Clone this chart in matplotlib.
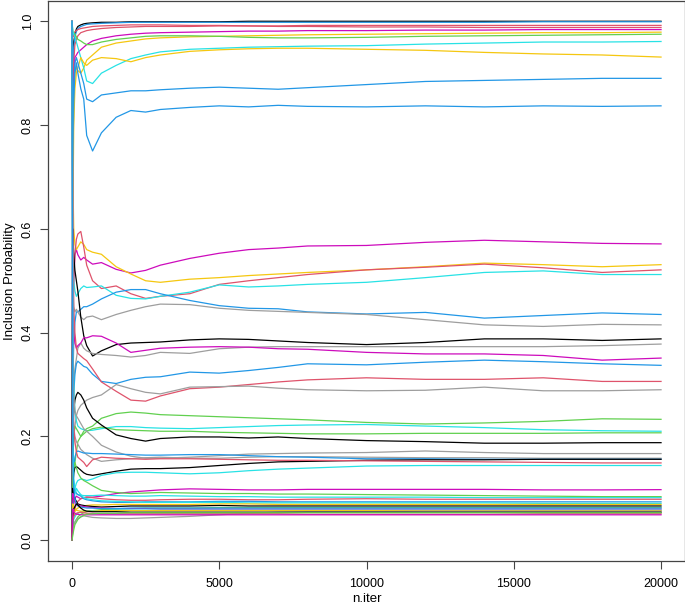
import matplotlib

matplotlib.use("Agg")
import matplotlib.pyplot as plt

# iteration grid at which the running inclusion probabilities were read
iters = [1, 30, 60, 100, 150, 200, 300, 400, 500, 700, 1000, 1500, 2000, 2500,
         3000, 4000, 5000, 6000, 7000, 8000, 10000, 12000, 14000, 16000, 18000, 20000]

# R default palette (col = 1:8)
palette = {"black": "#000000", "red": "#DF536B", "green": "#61D04F", "blue": "#2297E6",
           "cyan": "#28E2E5", "magenta": "#CD0BBC", "gold": "#F5C710", "gray": "#9E9E9E"}

# variables that end near 1
top_colors = ["black", "blue", "red", "red", "magenta", "gold", "green", "cyan", "gold", "blue", "blue"]
top_values = [
    [0.0, 0.93, 0.96, 0.975, 0.985, 0.99, 0.993, 0.995, 0.996, 0.997, 0.998, 0.998, 0.999, 0.999, 0.999, 0.999, 0.999, 1.0, 1.0, 1.0, 1.0, 1.0, 1.0, 1.0, 1.0, 1.0],
    [0.0, 0.9, 0.95, 0.97, 0.98, 0.986, 0.99, 0.992, 0.994, 0.995, 0.996, 0.997, 0.998, 0.998, 0.998, 0.998, 0.998, 0.998, 0.998, 0.998, 0.998, 0.998, 0.998, 0.999, 0.999, 0.999],
    [0.0, 0.8, 0.92, 0.955, 0.965, 0.972, 0.978, 0.98, 0.982, 0.984, 0.986, 0.988, 0.989, 0.99, 0.99, 0.99, 0.991, 0.991, 0.991, 0.992, 0.992, 0.992, 0.992, 0.992, 0.992, 0.992],
    [1.0, 0.97, 0.975, 0.98, 0.982, 0.984, 0.986, 0.987, 0.988, 0.99, 0.991, 0.992, 0.993, 0.993, 0.993, 0.992, 0.992, 0.991, 0.99, 0.99, 0.989, 0.989, 0.988, 0.988, 0.988, 0.988],
    [0.0, 0.75, 0.88, 0.93, 0.935, 0.94, 0.945, 0.95, 0.955, 0.962, 0.967, 0.972, 0.975, 0.977, 0.978, 0.979, 0.98, 0.981, 0.981, 0.982, 0.982, 0.983, 0.983, 0.984, 0.984, 0.984],
    [0.0, 0.7, 0.85, 0.9, 0.91, 0.905, 0.9, 0.91, 0.925, 0.935, 0.95, 0.958, 0.962, 0.966, 0.968, 0.97, 0.971, 0.972, 0.973, 0.974, 0.975, 0.976, 0.977, 0.978, 0.978, 0.979],
    [1.0, 0.98, 0.978, 0.975, 0.97, 0.965, 0.962, 0.958, 0.955, 0.955, 0.96, 0.965, 0.968, 0.971, 0.972, 0.972, 0.971, 0.969, 0.968, 0.968, 0.969, 0.971, 0.972, 0.973, 0.974, 0.975],
    [1.0, 0.98, 0.975, 0.97, 0.96, 0.95, 0.93, 0.91, 0.885, 0.88, 0.9, 0.915, 0.928, 0.935, 0.941, 0.946, 0.948, 0.95, 0.951, 0.952, 0.953, 0.956, 0.958, 0.96, 0.96, 0.961],
    [0.0, 0.6, 0.8, 0.87, 0.9, 0.91, 0.93, 0.92, 0.915, 0.925, 0.93, 0.928, 0.922, 0.93, 0.935, 0.942, 0.945, 0.947, 0.948, 0.948, 0.946, 0.944, 0.94, 0.937, 0.935, 0.931],
    [0.0, 0.75, 0.88, 0.92, 0.93, 0.92, 0.9, 0.88, 0.85, 0.845, 0.858, 0.862, 0.866, 0.866, 0.868, 0.871, 0.873, 0.871, 0.869, 0.872, 0.878, 0.884, 0.886, 0.888, 0.89, 0.89],
    [0.0, 0.7, 0.85, 0.9, 0.92, 0.9, 0.87, 0.85, 0.78, 0.75, 0.785, 0.815, 0.828, 0.825, 0.83, 0.834, 0.837, 0.835, 0.838, 0.836, 0.835, 0.837, 0.835, 0.837, 0.836, 0.837],
]

# variables that settle between 0.25 and 0.6
mid_colors = ["magenta", "gold", "red", "cyan", "blue", "gray", "black", "gray", "magenta", "blue", "red", "gray"]
mid_values = [
    [0.0, 0.4, 0.5, 0.55, 0.56, 0.55, 0.54, 0.545, 0.54, 0.532, 0.535, 0.522, 0.515, 0.52, 0.53, 0.543, 0.553, 0.56, 0.563, 0.567, 0.568, 0.574, 0.578, 0.575, 0.572, 0.571],
    [1.0, 0.7, 0.6, 0.57, 0.56, 0.565, 0.575, 0.57, 0.56, 0.555, 0.551, 0.527, 0.513, 0.5, 0.497, 0.503, 0.506, 0.51, 0.513, 0.516, 0.521, 0.527, 0.534, 0.531, 0.527, 0.531],
    [0.0, 0.45, 0.5, 0.55, 0.58, 0.59, 0.595, 0.565, 0.53, 0.5, 0.485, 0.49, 0.475, 0.466, 0.47, 0.475, 0.493, 0.5, 0.506, 0.512, 0.521, 0.526, 0.532, 0.525, 0.516, 0.521],
    [1.0, 0.55, 0.5, 0.48, 0.47, 0.475, 0.485, 0.49, 0.487, 0.488, 0.49, 0.472, 0.466, 0.465, 0.47, 0.478, 0.492, 0.488, 0.49, 0.493, 0.497, 0.506, 0.516, 0.519, 0.512, 0.512],
    [0.0, 0.3, 0.38, 0.42, 0.44, 0.44, 0.445, 0.45, 0.45, 0.455, 0.465, 0.478, 0.483, 0.483, 0.475, 0.462, 0.452, 0.447, 0.446, 0.44, 0.436, 0.439, 0.428, 0.433, 0.438, 0.435],
    [1.0, 0.5, 0.45, 0.44, 0.445, 0.44, 0.43, 0.425, 0.43, 0.432, 0.425, 0.435, 0.443, 0.45, 0.455, 0.454, 0.447, 0.443, 0.441, 0.439, 0.435, 0.425, 0.415, 0.412, 0.416, 0.415],
    [0.0, 0.6, 0.55, 0.52, 0.5, 0.48, 0.43, 0.394, 0.375, 0.355, 0.365, 0.377, 0.38, 0.381, 0.382, 0.386, 0.388, 0.387, 0.384, 0.381, 0.377, 0.381, 0.388, 0.388, 0.385, 0.388],
    [0.0, 0.25, 0.3, 0.33, 0.35, 0.37, 0.38, 0.37, 0.365, 0.36, 0.358, 0.356, 0.353, 0.356, 0.362, 0.36, 0.369, 0.372, 0.373, 0.373, 0.373, 0.373, 0.373, 0.373, 0.375, 0.378],
    [1.0, 0.45, 0.4, 0.38, 0.37, 0.375, 0.38, 0.39, 0.39, 0.394, 0.393, 0.38, 0.362, 0.366, 0.37, 0.372, 0.373, 0.372, 0.369, 0.368, 0.362, 0.359, 0.359, 0.356, 0.347, 0.351],
    [0.0, 0.2, 0.28, 0.32, 0.34, 0.345, 0.34, 0.335, 0.333, 0.32, 0.306, 0.302, 0.31, 0.314, 0.315, 0.324, 0.322, 0.327, 0.333, 0.34, 0.338, 0.343, 0.347, 0.344, 0.34, 0.337],
    [1.0, 0.6, 0.45, 0.4, 0.37, 0.36, 0.355, 0.35, 0.346, 0.33, 0.305, 0.287, 0.27, 0.268, 0.278, 0.292, 0.295, 0.3, 0.305, 0.309, 0.313, 0.31, 0.31, 0.313, 0.306, 0.306],
    [0.0, 0.15, 0.2, 0.22, 0.24, 0.25, 0.26, 0.265, 0.27, 0.275, 0.28, 0.3, 0.292, 0.285, 0.282, 0.295, 0.296, 0.297, 0.293, 0.29, 0.288, 0.289, 0.295, 0.288, 0.288, 0.29],
]

# variables that settle between 0.14 and 0.24
band_colors = ["green", "cyan", "green", "black", "gray", "gray", "blue", "black", "red", "cyan"]
band_values = [
    [0.0, 0.1, 0.13, 0.15, 0.17, 0.19, 0.2, 0.21, 0.215, 0.22, 0.235, 0.244, 0.247, 0.245, 0.242, 0.24, 0.238, 0.236, 0.234, 0.232, 0.227, 0.224, 0.226, 0.229, 0.234, 0.233],
    [1.0, 0.4, 0.3, 0.25, 0.23, 0.22, 0.215, 0.213, 0.211, 0.212, 0.215, 0.219, 0.219, 0.217, 0.216, 0.215, 0.217, 0.219, 0.221, 0.222, 0.223, 0.22, 0.217, 0.213, 0.211, 0.21],
    [0.0, 0.15, 0.2, 0.22, 0.215, 0.21, 0.2, 0.205, 0.21, 0.215, 0.218, 0.213, 0.212, 0.211, 0.21, 0.21, 0.208, 0.207, 0.206, 0.205, 0.205, 0.206, 0.206, 0.206, 0.207, 0.207],
    [0.0, 0.2, 0.25, 0.27, 0.28, 0.285, 0.28, 0.27, 0.255, 0.235, 0.222, 0.203, 0.196, 0.191, 0.196, 0.199, 0.199, 0.197, 0.199, 0.196, 0.192, 0.19, 0.187, 0.187, 0.188, 0.188],
    [1.0, 0.35, 0.28, 0.25, 0.24, 0.235, 0.225, 0.215, 0.21, 0.2, 0.183, 0.17, 0.162, 0.158, 0.158, 0.16, 0.163, 0.166, 0.167, 0.168, 0.169, 0.172, 0.169, 0.167, 0.167, 0.167],
    [0.0, 0.25, 0.22, 0.2, 0.19, 0.185, 0.175, 0.17, 0.165, 0.158, 0.152, 0.155, 0.157, 0.159, 0.16, 0.158, 0.158, 0.16, 0.161, 0.161, 0.16, 0.159, 0.159, 0.158, 0.158, 0.158],
    [0.0, 0.1, 0.14, 0.16, 0.17, 0.172, 0.17, 0.168, 0.168, 0.167, 0.167, 0.166, 0.165, 0.164, 0.164, 0.165, 0.165, 0.163, 0.161, 0.16, 0.157, 0.157, 0.156, 0.156, 0.156, 0.156],
    [0.0, 0.1, 0.13, 0.14, 0.142, 0.14, 0.135, 0.13, 0.127, 0.125, 0.128, 0.133, 0.137, 0.138, 0.138, 0.14, 0.144, 0.148, 0.151, 0.152, 0.154, 0.155, 0.155, 0.156, 0.156, 0.156],
    [1.0, 0.3, 0.22, 0.19, 0.17, 0.16, 0.155, 0.15, 0.142, 0.155, 0.16, 0.158, 0.157, 0.156, 0.157, 0.157, 0.156, 0.155, 0.154, 0.154, 0.153, 0.152, 0.151, 0.15, 0.149, 0.149],
    [0.0, 0.05, 0.08, 0.1, 0.11, 0.115, 0.118, 0.117, 0.115, 0.118, 0.125, 0.13, 0.131, 0.131, 0.13, 0.128, 0.13, 0.134, 0.137, 0.139, 0.143, 0.144, 0.144, 0.144, 0.144, 0.144],
]

# variables that stay rarely included (below 0.1)
low_colors = ["magenta", "green", "cyan", "red", "blue", "cyan", "gold", "black", "green", "magenta",
              "blue", "cyan", "gold", "gray", "black", "red", "magenta", "green"]
low_values = [
    [0.0, 0.05, 0.07, 0.08, 0.085, 0.083, 0.08, 0.082, 0.083, 0.083, 0.085, 0.09, 0.093, 0.095, 0.097, 0.099, 0.098, 0.097, 0.097, 0.098, 0.098, 0.098, 0.098, 0.097, 0.097, 0.0975],
    [0.0, 0.12, 0.14, 0.15, 0.14, 0.13, 0.12, 0.115, 0.112, 0.105, 0.096, 0.092, 0.09, 0.091, 0.092, 0.091, 0.09, 0.09, 0.089, 0.089, 0.088, 0.087, 0.086, 0.085, 0.084, 0.084],
    [1.0, 0.2, 0.12, 0.1, 0.09, 0.088, 0.087, 0.086, 0.086, 0.086, 0.087, 0.086, 0.085, 0.085, 0.086, 0.085, 0.084, 0.084, 0.083, 0.083, 0.083, 0.083, 0.082, 0.082, 0.082, 0.082],
    [0.0, 0.03, 0.05, 0.06, 0.07, 0.075, 0.08, 0.082, 0.083, 0.082, 0.08, 0.078, 0.077, 0.077, 0.078, 0.079, 0.079, 0.078, 0.078, 0.079, 0.08, 0.079, 0.079, 0.079, 0.079, 0.079],
    [0.0, 0.08, 0.1, 0.095, 0.09, 0.088, 0.085, 0.08, 0.078, 0.076, 0.074, 0.073, 0.073, 0.074, 0.074, 0.074, 0.075, 0.075, 0.074, 0.074, 0.074, 0.074, 0.074, 0.074, 0.074, 0.074],
    [0.0, 0.06, 0.08, 0.09, 0.1, 0.095, 0.088, 0.082, 0.08, 0.078, 0.076, 0.075, 0.074, 0.073, 0.073, 0.073, 0.073, 0.072, 0.072, 0.072, 0.072, 0.072, 0.072, 0.071, 0.071, 0.071],
    [0.0, 0.04, 0.05, 0.055, 0.06, 0.062, 0.065, 0.066, 0.067, 0.068, 0.068, 0.069, 0.069, 0.069, 0.069, 0.069, 0.07, 0.07, 0.069, 0.069, 0.069, 0.069, 0.069, 0.069, 0.069, 0.069],
    [0.0, 0.1, 0.09, 0.08, 0.075, 0.07, 0.068, 0.067, 0.066, 0.065, 0.064, 0.065, 0.066, 0.066, 0.066, 0.066, 0.067, 0.066, 0.066, 0.066, 0.066, 0.066, 0.066, 0.066, 0.066, 0.066],
    [0.0, 0.02, 0.03, 0.035, 0.04, 0.045, 0.05, 0.053, 0.055, 0.057, 0.059, 0.06, 0.061, 0.062, 0.062, 0.062, 0.063, 0.063, 0.063, 0.063, 0.063, 0.063, 0.063, 0.063, 0.063, 0.063],
    [0.0, 0.09, 0.08, 0.075, 0.07, 0.068, 0.066, 0.065, 0.064, 0.063, 0.062, 0.061, 0.061, 0.061, 0.06, 0.06, 0.06, 0.06, 0.06, 0.06, 0.06, 0.06, 0.06, 0.06, 0.06, 0.06],
    [1.0, 0.15, 0.1, 0.08, 0.07, 0.066, 0.064, 0.063, 0.062, 0.062, 0.061, 0.061, 0.062, 0.062, 0.062, 0.062, 0.062, 0.062, 0.062, 0.062, 0.062, 0.062, 0.062, 0.062, 0.062, 0.062],
    [0.0, 0.03, 0.04, 0.045, 0.05, 0.052, 0.055, 0.056, 0.056, 0.057, 0.057, 0.058, 0.058, 0.058, 0.058, 0.058, 0.058, 0.058, 0.058, 0.058, 0.058, 0.058, 0.058, 0.058, 0.058, 0.058],
    [0.0, 0.07, 0.065, 0.06, 0.058, 0.057, 0.056, 0.056, 0.056, 0.056, 0.057, 0.057, 0.057, 0.057, 0.057, 0.057, 0.057, 0.057, 0.057, 0.057, 0.057, 0.057, 0.057, 0.057, 0.057, 0.057],
    [0.0, 0.02, 0.03, 0.035, 0.04, 0.042, 0.045, 0.047, 0.046, 0.044, 0.043, 0.042, 0.042, 0.043, 0.044, 0.046, 0.049, 0.052, 0.054, 0.055, 0.055, 0.056, 0.056, 0.056, 0.056, 0.056],
    [0.0, 0.05, 0.06, 0.065, 0.07, 0.068, 0.062, 0.058, 0.056, 0.055, 0.055, 0.055, 0.054, 0.054, 0.054, 0.054, 0.054, 0.054, 0.054, 0.054, 0.054, 0.054, 0.054, 0.054, 0.054, 0.054],
    [0.0, 0.04, 0.045, 0.05, 0.052, 0.053, 0.054, 0.053, 0.052, 0.052, 0.051, 0.051, 0.051, 0.051, 0.051, 0.051, 0.051, 0.051, 0.051, 0.05, 0.05, 0.05, 0.05, 0.051, 0.051, 0.051],
    [0.0, 0.06, 0.055, 0.052, 0.05, 0.05, 0.049, 0.049, 0.049, 0.049, 0.049, 0.049, 0.049, 0.049, 0.049, 0.049, 0.049, 0.049, 0.049, 0.049, 0.049, 0.049, 0.049, 0.049, 0.049, 0.049],
    [0.0, 0.01, 0.02, 0.03, 0.035, 0.04, 0.045, 0.048, 0.05, 0.051, 0.052, 0.052, 0.053, 0.053, 0.053, 0.053, 0.053, 0.053, 0.053, 0.053, 0.053, 0.053, 0.053, 0.053, 0.053, 0.053],
]

x_ticks = [0, 5000, 10000, 15000, 20000]
y_ticks = [0.0, 0.2, 0.4, 0.6, 0.8, 1.0]
y_tick_labels = ["0.0", "0.2", "0.4", "0.6", "0.8", "1.0"]

plt.rcParams["font.family"] = ["Liberation Sans", "DejaVu Sans"]

W, H = 685, 609
fig = plt.figure(figsize=(W / 100, H / 100), dpi=100)
left, right, top, bottom = 48.4, 684.6, 0.5, 561.0
ax = fig.add_axes([left / W, 1 - bottom / H, (right - left) / W, (bottom - top) / H])

for colors, values in [(top_colors, top_values), (mid_colors, mid_values),
                       (band_colors, band_values), (low_colors, low_values)]:
    for c, v in zip(colors, values):
        ax.plot(iters, v, color=palette[c], lw=0.9, solid_joinstyle="round")

ax.set_xlim(-800, 20800)
ax.set_ylim(-0.04, 1.04)
ax.set_xticks(x_ticks)
ax.set_xticklabels([str(t) for t in x_ticks], fontsize=9)
ax.set_yticks(y_ticks)
ax.set_yticklabels(y_tick_labels, fontsize=9, rotation=90, va="center")
ax.tick_params(axis="both", direction="out", length=5.5, width=0.8, color="#444444")
ax.tick_params(axis="x", pad=7)
ax.tick_params(axis="y", pad=5)
for s in ax.spines.values():
    s.set_color("#444444")
    s.set_linewidth(0.9)

fig.text((left + right) / 2 / W, 1 - 599 / H, "n.iter", ha="center", va="center", fontsize=9.5)
fig.text(10 / W, 1 - (top + bottom) / 2 / H, "Inclusion Probability", rotation=90,
         ha="center", va="center", fontsize=9.5)

fig.savefig("out.png", dpi=100)
